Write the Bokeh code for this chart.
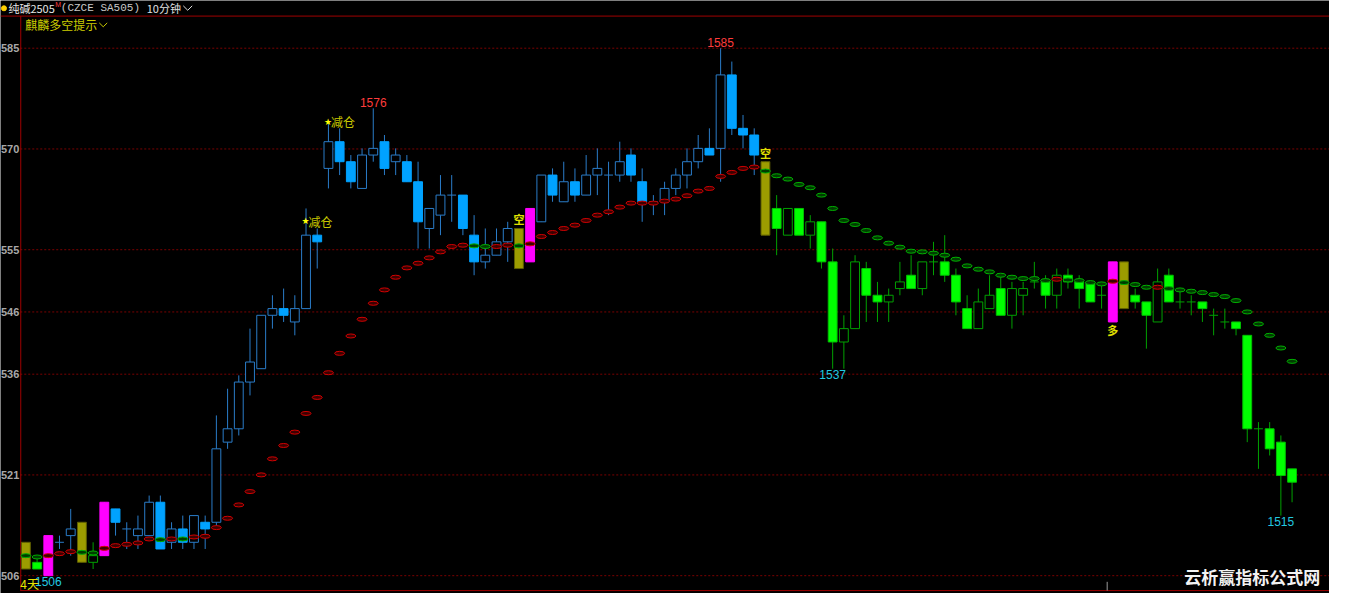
from bokeh.plotting import figure
from bokeh.models import ColumnDataSource, Range1d
from bokeh.core.properties import value
from bokeh.embed import file_html
from bokeh.resources import INLINE

# ---------------- data (10-minute bars, 纯碱2505) ----------------
opens = [1507, 1508, 1506, 1511, 1512, 1508, 1508, 1509, 1516, 1513,
         1512, 1512, 1517, 1511, 1513, 1511, 1514, 1514, 1526, 1528,
         1535, 1537, 1545, 1546, 1544, 1546, 1557, 1567, 1571, 1568,
         1564, 1569, 1571, 1568, 1568, 1565, 1558, 1560, 1563, 1563,
         1557, 1553, 1554, 1556, 1558, 1553, 1559, 1566, 1562, 1565,
         1563, 1566, 1566, 1566, 1569, 1565, 1562, 1562, 1564, 1566,
         1568, 1570, 1570, 1581, 1573, 1572, 1568, 1561, 1557, 1561,
         1557, 1559, 1553, 1541, 1543, 1552, 1548, 1547, 1549, 1551,
         1549, 1553, 1553, 1551, 1546, 1543, 1546, 1549, 1545, 1548,
         1550, 1550, 1548, 1551, 1550, 1550, 1548, 1544, 1553, 1548,
         1547, 1544, 1551, 1547, 1547, 1547, 1545, 1544, 1544, 1542,
         1528, 1528, 1526, 1522]
highs = [1511, 1509, 1512, 1512, 1516, 1514, 1511, 1517, 1516, 1514,
         1515, 1518, 1518, 1514, 1515, 1515, 1515, 1530, 1534, 1536,
         1543, 1545, 1548, 1549, 1548, 1561, 1558, 1574, 1573, 1569,
         1570, 1576, 1572, 1570, 1569, 1568, 1561, 1566, 1566, 1563,
         1560, 1558, 1558, 1559, 1558, 1561, 1566, 1567, 1568, 1567,
         1569, 1570, 1568, 1571, 1570, 1567, 1563, 1565, 1567, 1570,
         1572, 1573, 1585, 1583, 1575, 1573, 1568, 1563, 1561, 1561,
         1560, 1559, 1555, 1545, 1554, 1553, 1550, 1549, 1553, 1554,
         1553, 1556, 1557, 1552, 1548, 1549, 1551, 1551, 1550, 1550,
         1553, 1551, 1552, 1552, 1551, 1550, 1550, 1553, 1553, 1549,
         1547, 1552, 1552, 1549, 1548, 1547, 1546, 1546, 1544, 1542,
         1529, 1529, 1527, 1522]
lows = [1507, 1507, 1506, 1510, 1509, 1508, 1507, 1509, 1512, 1510,
        1510, 1512, 1510, 1510, 1510, 1510, 1510, 1513, 1525, 1527,
        1533, 1537, 1543, 1544, 1542, 1546, 1552, 1564, 1566, 1564,
        1564, 1568, 1566, 1566, 1565, 1555, 1555, 1557, 1559, 1557,
        1551, 1552, 1554, 1553, 1552, 1553, 1559, 1562, 1562, 1562,
        1563, 1563, 1560, 1565, 1565, 1559, 1560, 1560, 1563, 1564,
        1567, 1569, 1565, 1572, 1570, 1566, 1557, 1554, 1557, 1557,
        1555, 1552, 1537, 1537, 1543, 1544, 1544, 1544, 1548, 1549,
        1548, 1551, 1550, 1545, 1543, 1543, 1546, 1545, 1543, 1545,
        1549, 1546, 1546, 1549, 1546, 1547, 1546, 1544, 1546, 1546,
        1540, 1544, 1547, 1546, 1545, 1544, 1542, 1543, 1542, 1526,
        1522, 1524, 1515, 1517]
closes = [1511, 1507, 1512, 1511, 1513, 1514, 1509, 1517, 1514, 1513,
          1513, 1517, 1510, 1513, 1511, 1515, 1513, 1525, 1528, 1535,
          1538, 1545, 1546, 1545, 1546, 1557, 1556, 1571, 1568, 1565,
          1569, 1570, 1567, 1569, 1565, 1559, 1561, 1563, 1563, 1558,
          1553, 1554, 1556, 1558, 1552, 1561, 1566, 1563, 1565, 1563,
          1566, 1567, 1566, 1568, 1566, 1562, 1562, 1564, 1566, 1568,
          1570, 1569, 1581, 1573, 1572, 1569, 1557, 1558, 1561, 1557,
          1559, 1553, 1541, 1543, 1553, 1548, 1547, 1548, 1550, 1549,
          1553, 1553, 1551, 1547, 1543, 1547, 1548, 1545, 1549, 1549,
          1550, 1548, 1551, 1550, 1549, 1547, 1548, 1553, 1546, 1547,
          1545, 1550, 1547, 1547, 1547, 1546, 1545, 1544, 1543, 1528,
          1528, 1525, 1521, 1520]
# B = blue trend, G = green trend, Y = olive signal bar, M = magenta signal bar
bar_style = ("YGMBBYGM" + "B" * 36 + "YM" + "B" * 20 + "Y" + "G" * 30
             + "M" + "Y" + "G" * 15)
# trailing stop dots
stop_vals = [1509.0, 1508.8, 1509.0, 1509.3, 1509.6, 1509.5, 1509.4, 1510.1, 1510.5, 1510.7,
             1510.9, 1511.5, 1511.4, 1511.5, 1511.5, 1511.8, 1511.9, 1513.2, 1514.6, 1516.6,
             1518.6, 1521.1, 1523.5, 1525.5, 1527.5, 1530.3, 1532.7, 1536.4, 1539.3, 1541.9,
             1544.4, 1546.8, 1548.8, 1550.7, 1552.1, 1552.8, 1553.6, 1554.5, 1555.3, 1555.5,
             1555.4, 1555.3, 1555.3, 1555.5, 1555.4, 1555.7, 1556.8, 1557.4, 1558.0, 1558.5,
             1559.2, 1560.0, 1560.5, 1561.2, 1561.8, 1561.8, 1561.8, 1562.1, 1562.4, 1562.9,
             1563.6, 1564.0, 1565.8, 1566.4, 1567.0, 1567.2, 1566.6, 1565.9, 1565.4, 1564.6,
             1564.1, 1563.0, 1561.0, 1559.2, 1558.6, 1557.7, 1556.6, 1555.8, 1555.2, 1554.6,
             1554.5, 1554.3, 1554.0, 1553.4, 1552.4, 1551.9, 1551.5, 1551.0, 1550.7, 1550.5,
             1550.5, 1550.2, 1550.4, 1550.3, 1550.2, 1549.9, 1549.7, 1550.1, 1549.9, 1549.6,
             1549.2, 1549.2, 1549.0, 1548.8, 1548.6, 1548.4, 1548.1, 1547.8, 1547.2, 1545.5,
             1543.7, 1542.0, 1540.1, 1538.1]
stop_color = ("GGRRRGGRRRRRGRG" + "R" * 25 + "GGRRGR" + "R" * 20 + "G" * 26
              + "R" + "G" * 4 + "R" + "G" * 3 + "R" + "G" * 12)
# annotations
ext_idx = [63, 32, 3, 73, 113]
ext_kind = ["high", "high", "low", "low", "low"]
kong_idx = [45, 67]
duo_idx = [98]
jiancang_idx = [26, 28]
jiancang_lvl = [1559.1, 1574.0]
fib = [0.0, 0.191, 0.382, 0.5, 0.618, 0.809, 1.0]
# price-axis labels as displayed (leading digit cut by the panel edge)
axis_labels = ["585", "570", "555", "546", "536", "521", "506"]
session_break = [97.5]

# ---------------- layout helpers (reference pixel -> data) ----------------
W, H = 1329, 593
STEP, X0 = 11.34, 25.7
hi, lo = max(highs), min(lows)
TOP_PX, BOT_PX = 49.0, 590.7
PPU = (BOT_PX - TOP_PX) / (hi - lo)


def X(rx):
    return 1 + (rx - X0) / STEP


def Y(ry):
    return hi - (ry - TOP_PX) / PPU


p = figure(width=W, height=H, x_range=Range1d(X(0), X(1345)),
           y_range=Range1d(Y(609), Y(0)), output_backend="svg",
           toolbar_location=None, x_axis_type=None, y_axis_type=None,
           min_border=0, background_fill_color="black",
           border_fill_color="black", outline_line_color=None)

# grid (golden-section levels between high and low)
levels = [hi - f * (hi - lo) for f in fib]
p.segment(x0=[X(20)] * len(levels), y0=levels, x1=[X(1345)] * len(levels),
          y1=levels, line_color="#7a0000", line_width=1, line_dash="2 2")
p.text(x=[X(19)] * len(levels), y=levels, text=axis_labels,
       text_font=value("Liberation Sans"), text_font_size=value("11px"),
       text_font_style="bold", text_color="#a8a8a8", text_align="right",
       text_baseline="middle")

# frame lines
red = "#a00000"
p.segment(x0=[X(0), X(20.5), X(20)], y0=[Y(16), Y(16), Y(606)],
          x1=[X(1345), X(20.5), X(1345)], y1=[Y(16), Y(606), Y(606)],
          line_color=red, line_width=1)
p.segment(x0=session_break, y0=[Y(597)], x1=session_break, y1=[Y(606)],
          line_color="#9a9a9a", line_width=1)

# candles
BLUE_LINE, BLUE_FILL = "#2a7cc8", "#00a2ff"
GREEN_LINE, GREEN_FILL = "#00a000", "#00ff00"
xs, fills, lines, wicks, tops, bots = [], [], [], [], [], []
cx, cy, cc = [], [], []
for i, (o, h, l, c, s) in enumerate(zip(opens, highs, lows, closes, bar_style)):
    x = i + 1
    if s == "Y":
        f, ln, wk = "#9c9c00", "#5e5e00", "#9c9c00"
    elif s == "M":
        f, ln, wk = "#ff00ff", "#ff00ff", "#ff00ff"
    else:
        base_l = BLUE_LINE if s == "B" else GREEN_LINE
        base_f = BLUE_FILL if s == "B" else GREEN_FILL
        wk = base_l
        if c > o:
            f, ln = "black", base_l
        else:
            f, ln = base_f, (base_f if s == "B" else "#00c000")
    if o == c and s in "BG":
        cx.append(x)
        cy.append(o)
        cc.append(wk)
    xs.append(x)
    fills.append(f)
    lines.append(ln)
    wicks.append(wk)
    tops.append(max(o, c))
    bots.append(min(o, c))

src = ColumnDataSource(dict(x=xs, top=tops, bottom=bots, high=highs, low=lows,
                            fill=fills, line=lines, wick=wicks))
p.segment(x0="x", y0="low", x1="x", y1="high", line_color="wick",
          line_width=1, source=src)
BW = 0.79
body_src = ColumnDataSource({k: [v for v, t, b in zip(src.data[k], tops, bots) if t != b]
                             for k in src.data})
p.vbar(x="x", top="top", bottom="bottom", width=BW, fill_color="fill",
       line_color="line", line_width=1, source=body_src)
p.segment(x0=[x - BW / 2 for x in cx], y0=cy, x1=[x + BW / 2 for x in cx], y1=cy,
          line_color=cc, line_width=1)

# trailing stop ellipses
dot_src = ColumnDataSource(dict(
    x=list(range(1, len(stop_vals) + 1)), y=stop_vals,
    line=["#d00000" if k == "R" else "#00b000" for k in stop_color],
    fill=["#3c0000" if k == "R" else "#003c00" for k in stop_color]))
p.ellipse(x="x", y="y", width=10, height=4, width_units="screen",
          height_units="screen", fill_color="fill", line_color="line",
          line_width=1, source=dot_src)

# extreme price labels
for idx, kind in zip(ext_idx, ext_kind):
    if kind == "high":
        v, col, base, off = highs[idx - 1], "#ff3c3c", "bottom", -1
    else:
        v, col, base, off = lows[idx - 1], "#22c8e0", "top", 1
    p.text(x=[idx], y=[v], text=[str(v)], text_font=value("Liberation Sans"),
           text_font_size=value("12px"), text_color=col, text_align="center",
           text_baseline=base, y_offset=off)

# signal text
sig_font = value("Noto Sans CJK SC")
p.text(x=kong_idx, y=[highs[i - 1] for i in kong_idx], text=["空"] * len(kong_idx),
       text_font=sig_font, text_font_size=value("11px"), text_font_style="bold",
       text_color="#e0e000", text_align="center", text_baseline="bottom", y_offset=-1)
p.text(x=duo_idx, y=[lows[i - 1] for i in duo_idx], text=["多"] * len(duo_idx),
       text_font=sig_font, text_font_size=value("11px"), text_font_style="bold",
       text_color="#e0e000", text_align="center", text_baseline="top", y_offset=0)
p.text(x=jiancang_idx, y=jiancang_lvl, text=["★"] * len(jiancang_idx),
       text_font=value("DejaVu Sans"), text_font_size=value("9px"),
       text_color="#ffff00", text_align="left", text_baseline="middle", x_offset=-4.5)
p.text(x=jiancang_idx, y=jiancang_lvl, text=["减仓"] * len(jiancang_idx),
       text_font=sig_font, text_font_size=value("12px"),
       text_color="#c8c800", text_align="left", text_baseline="middle", x_offset=2.5)

# header
p.scatter(x=[X(3.5)], y=[Y(8)], size=5, marker="circle", color="#ffd000")
hdr = [("纯碱2505", 8, 8, "#e6e6e6", "Noto Sans CJK SC", "11px"),
       ("M", 55.5, 4.5, "#ff3c3c", "Liberation Sans", "7px"),
       ("(CZCE SA505)", 61, 8, "#c8c8c8", "Liberation Mono", "11px"),
       ("10分钟", 148, 8, "#e0e0e0", "Noto Sans CJK SC", "11px"),
       ("麒麟多空提示", 25, 25, "#cccc00", "Noto Sans CJK SC", "12px"),
       ("4天", 20, 599, "#e6e600", "Noto Sans CJK SC", "12px")]
for t, rx, ry, col, fnt, fs in hdr:
    p.text(x=[X(rx)], y=[Y(ry)], text=[t], text_font=value(fnt),
           text_font_size=value(fs), text_color=col, text_align="left",
           text_baseline="middle")
p.line(x=[X(185), X(189.5), X(194)], y=[Y(5.5), Y(10), Y(5.5)],
       line_color="#e0e0e0", line_width=1)
p.line(x=[X(100), X(104), X(108)], y=[Y(23), Y(27), Y(23)],
       line_color="#cccc00", line_width=1)

# watermark
p.text(x=[X(1198)], y=[Y(591.5)], text=["云析赢指标公式网"],
       text_font=value("Noto Sans CJK SC"), text_font_size=value("17px"),
       text_font_style="bold", text_color="#f2f2f2", text_align="left",
       text_baseline="middle")

open("out.html", "w").write(file_html(p, INLINE))
